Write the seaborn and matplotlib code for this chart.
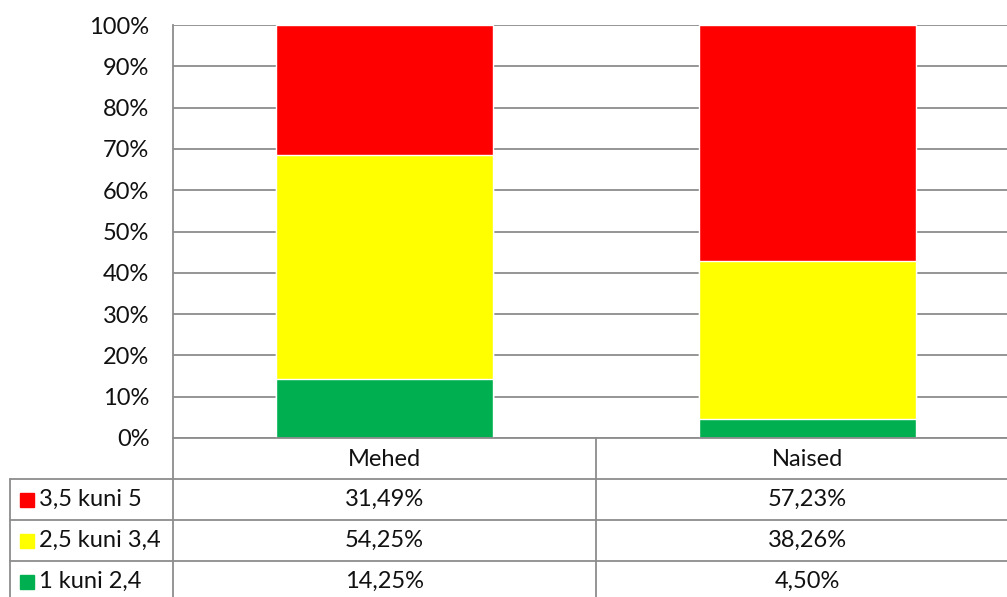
import seaborn as sns
import pandas as pd
import matplotlib.pyplot as plt
from matplotlib.lines import Line2D
from matplotlib.patches import Rectangle

groups = ['Mehed', 'Naised']
series = ['3,5 kuni 5', '2,5 kuni 3,4', '1 kuni 2,4']
high = [31.49, 57.23]
mid = [54.25, 38.26]
low = [14.25, 4.50]
colors = ['#FF0000', '#FFFF00', '#00B050']
yticks = [0, 10, 20, 30, 40, 50, 60, 70, 80, 90, 100]

df = pd.DataFrame({'group': groups, 'high': high, 'mid': mid, 'low': low})
df['cum_low'] = df['low']
df['cum_mid'] = df['low'] + df['mid']
df['cum_high'] = df['low'] + df['mid'] + df['high']

sns.set_style('white')
plt.rcParams['font.family'] = ['Lato', 'DejaVu Sans']

W, H = 1007, 597
fs = 17
fig = plt.figure(figsize=(W / 100, H / 100), dpi=100)
ax = fig.add_axes([173 / W, (H - 438) / H, (1019 - 173) / W, 413 / H])

grid_c = '#8C8C8C'
# stacked bars drawn as cumulative layers
for col, c in zip(['cum_high', 'cum_mid', 'cum_low'], colors):
    sns.barplot(data=df, x='group', y=col, color=c, width=0.513,
                saturation=1, ax=ax, zorder=3)

ax.set_ylim(0, 100)
ax.set_xlim(-0.5, 1.5)
ax.set_yticks(yticks)
ax.set_yticklabels([f'{v}%' for v in yticks], fontsize=fs, color='#111111')
ax.set_xticks([])
ax.set_xlabel('')
ax.set_ylabel('')
ax.tick_params(axis='y', length=0, pad=17)
ax.yaxis.grid(True, color=grid_c, linewidth=1.3, zorder=0)
ax.set_axisbelow(True)
for s in ['top', 'right', 'bottom']:
    ax.spines[s].set_visible(False)
ax.spines['left'].set_color(grid_c)
ax.spines['left'].set_linewidth(1.3)

# data table below the plot
def fx(x):
    return x / W

def fy(y):
    return 1 - y / H

lw = 1.3
rows_y = [438, 479, 520, 561, 602]
# horizontal lines
fig.add_artist(Line2D([fx(173), fx(1007)], [fy(438), fy(438)], color=grid_c, lw=lw))
for y in rows_y[1:4]:
    fig.add_artist(Line2D([fx(10), fx(1007)], [fy(y), fy(y)], color=grid_c, lw=lw))
# vertical lines
fig.add_artist(Line2D([fx(173), fx(173)], [fy(438), fy(602)], color=grid_c, lw=lw))
fig.add_artist(Line2D([fx(596), fx(596)], [fy(438), fy(602)], color=grid_c, lw=lw))
fig.add_artist(Line2D([fx(10), fx(10)], [fy(479), fy(602)], color=grid_c, lw=lw))

col_x = [384.5, 807.5]
for g, x in zip(groups, col_x):
    fig.text(fx(x), fy(459), g, ha='center', va='center', fontsize=fs, color='#111111')

table_vals = [high, mid, low]
for i, (name, vals, c) in enumerate(zip(series, table_vals, colors)):
    yc = (rows_y[i + 1] + rows_y[i + 2]) / 2
    fig.add_artist(Rectangle((fx(20), fy(yc + 7)), 14 / W, 14 / H, color=c,
                             transform=fig.transFigure))
    fig.text(fx(39), fy(yc), name, ha='left', va='center', fontsize=fs, color='#111111')
    for v, x in zip(vals, col_x):
        fig.text(fx(x), fy(yc), f'{v:.2f}%'.replace('.', ','), ha='center', va='center',
                 fontsize=fs, color='#111111')

fig.savefig('out.png', dpi=100)
